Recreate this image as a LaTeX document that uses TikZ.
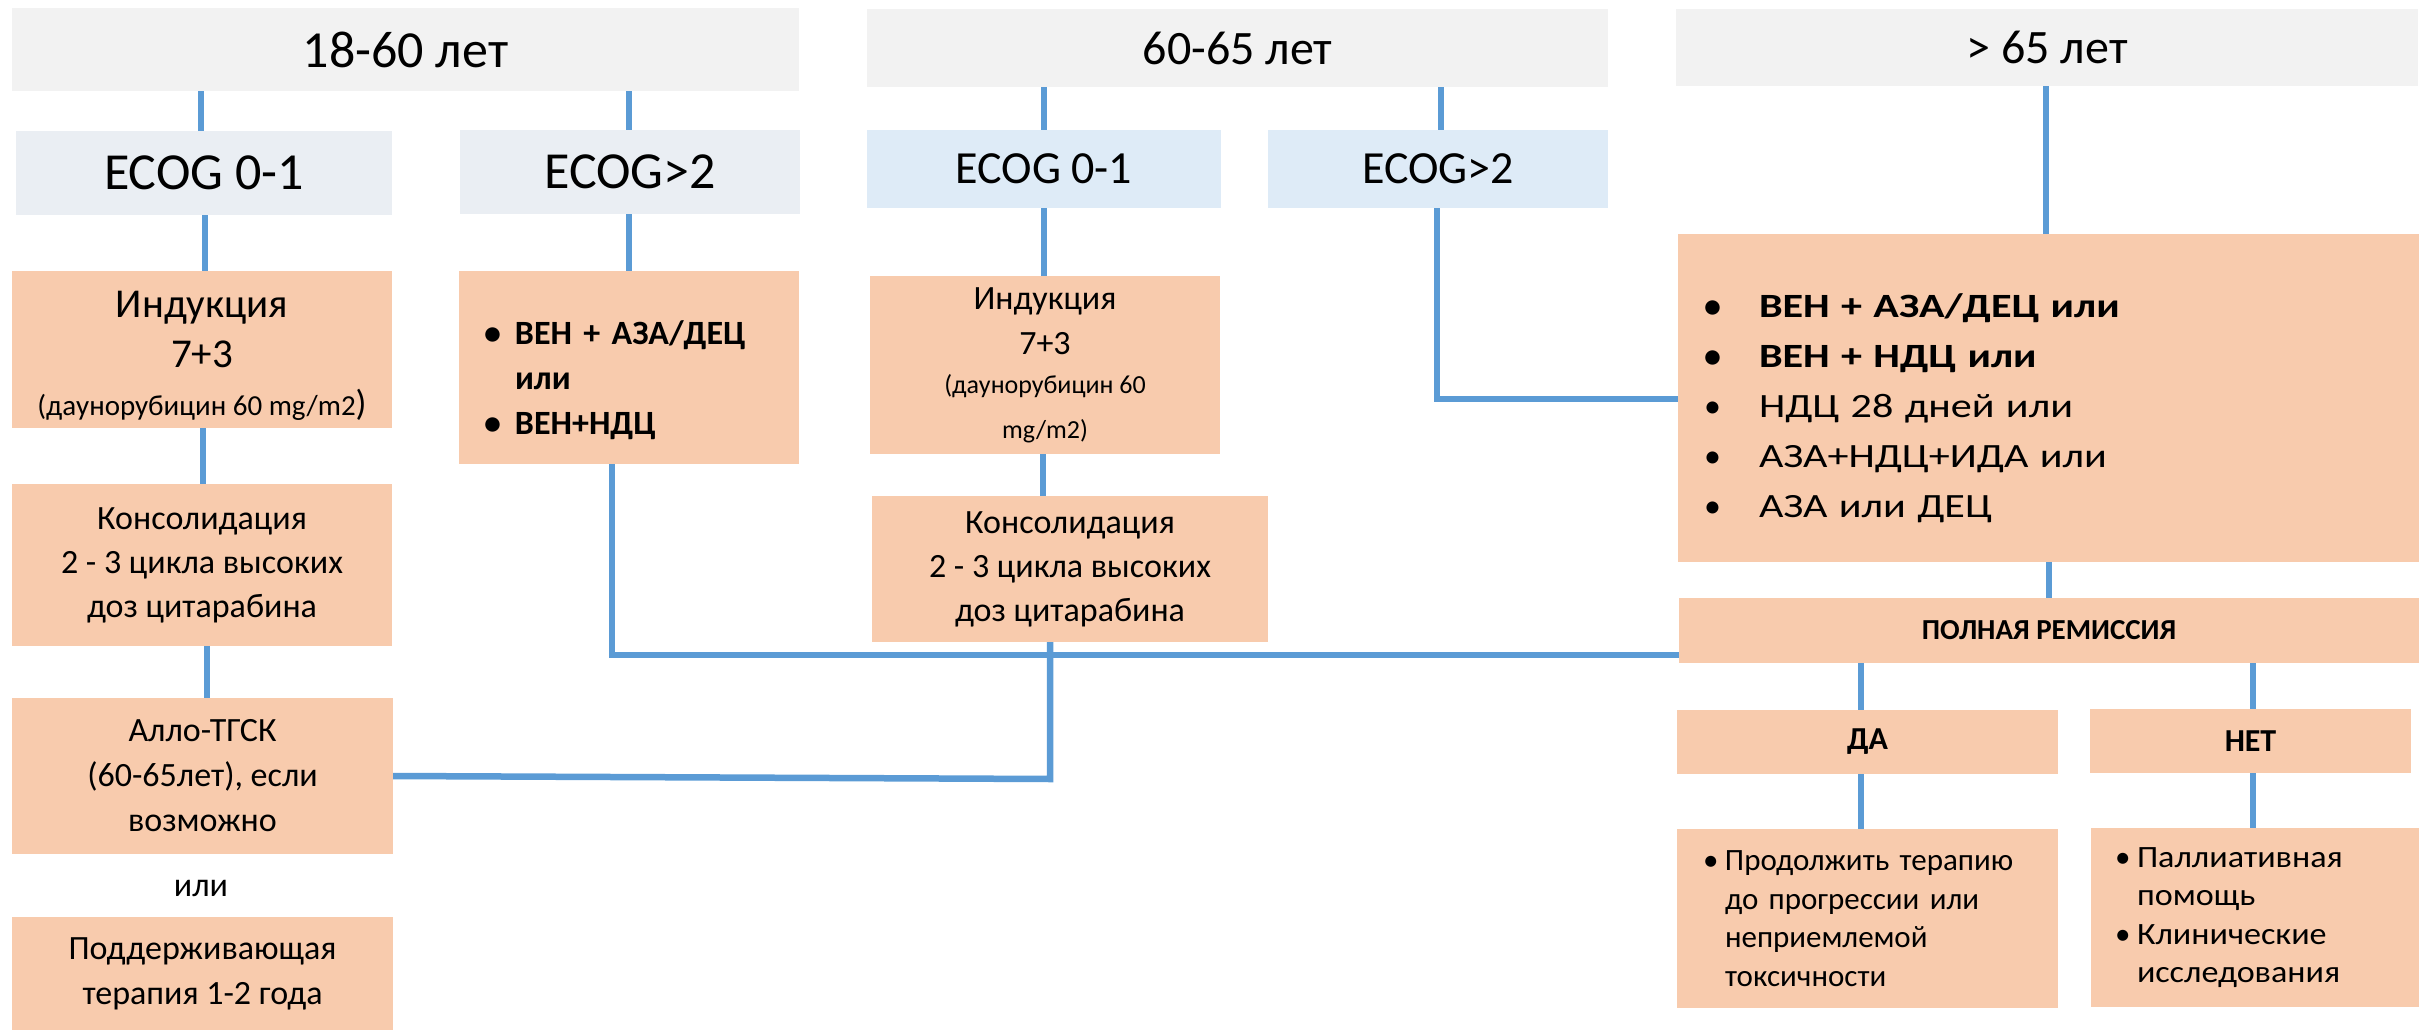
\documentclass[tikz,border=0pt]{standalone}
\usepackage{fontspec}
\setmainfont{Carlito}
\newfontfamily\wideA[FakeStretch=1.24]{Carlito}
\newfontfamily\wideB[FakeStretch=1.1]{Carlito}
\definecolor{hdr}{HTML}{F2F2F2}
\definecolor{ecA}{HTML}{EAEEF3}
\definecolor{ecB}{HTML}{DEEBF7}
\definecolor{org}{HTML}{F8CBAD}
\definecolor{lnk}{HTML}{5B9BD5}
\newcommand{\fs}[2]{\fontsize{#1}{#2}\selectfont}
\newcommand{\mybul}[1]{\makebox[#1][l]{\rmfamily •}}
\tikzset{
 box/.style={rectangle, inner sep=0pt, align=center},
 obox/.style={box, fill=org},
 conn/.style={draw=lnk, line width=6.5pt},
}
\begin{document}
\begin{tikzpicture}[x=1pt,y=-1pt]
\useasboundingbox (0,0) rectangle (2428,1030);
% headers
\node[box, fill=hdr, minimum width=787, minimum height=83, font=\fs{52}{60}] (h1) at (405.5,49.5) {18-60 лет};
\node[box, fill=hdr, minimum width=741, minimum height=78, font=\fs{48}{52}] (h2) at (1237.5,48) {60-65 лет};
\node[box, fill=hdr, minimum width=742, minimum height=77, font=\fs{48}{52}] (h3) at (2047,47.5) {> 65 лет};
% ECOG
\node[box, fill=ecA, minimum width=376, minimum height=84, font=\fs{52}{58}] (e1a) at (204,173) {ECOG 0-1};
\node[box, fill=ecA, minimum width=340, minimum height=84, font=\fs{52}{58}] (e1b) at (630,172) {ECOG>2};
\node[box, fill=ecB, minimum width=354, minimum height=78, font=\fs{46}{52}] (e2a) at (1044,169) {ECOG 0-1};
\node[box, fill=ecB, minimum width=340, minimum height=78, font=\fs{46}{52}] (e2b) at (1438,169) {ECOG>2};
% 18-60 column
\node[obox, minimum width=380, minimum height=157, font=\fs{41}{50}] (ind1) at (202,349.5)
 {\rule{0pt}{38pt}Индукция\\7+3\\[-2pt]{\fs{29}{34}(даунорубицин 60 mg/m2}{\fs{36}{34})}};
\node[obox, minimum width=340, minimum height=193, text width=290pt, inner xsep=25pt, align=left, font=\bfseries\fs{34}{45}] (ven1) at (629,367.5)
 {\mybul{31pt}\rule{0pt}{50pt}ВЕН + АЗА/ДЕЦ\\\hspace*{31pt}или\\\mybul{31pt}ВЕН+НДЦ};
\node[obox, minimum width=380, minimum height=162, font=\fs{34}{44}] (cons1) at (202,565)
 {Консолидация\\2 - 3 цикла высоких\\доз цитарабина};
\node[obox, minimum width=381, minimum height=156, font=\fs{34}{45}] (allo) at (202.5,776)
 {Алло-ТГСК\\(60-65лет), если\\возможно};
\node[font=\fs{34}{40}] (orr) at (201,888) {или};
\node[obox, minimum width=381, minimum height=113, font=\fs{34}{45}] (maint) at (202.5,973.5)
 {Поддерживающая\\терапия 1-2 года};
% 60-65 column
\node[obox, minimum width=350, minimum height=178, font=\fs{34}{45}] (ind2) at (1045,365)
 {Индукция\\7+3\\[-6pt]{\fs{26}{31}(даунорубицин 60}\\{\fs{26}{31}mg/m2)}};
\node[obox, minimum width=396, minimum height=146, font=\fs{34}{44}] (cons2) at (1070,569)
 {Консолидация\\2 - 3 цикла высоких\\доз цитарабина};
% >65 column
\node[obox, minimum width=741, minimum height=328, text width=689pt, inner xsep=26pt, align=left, font=\wideA\fs{34}{50}] (b65) at (2048.5,398)
 {{\bfseries\mybul{55pt}\rule{0pt}{44pt}ВЕН + АЗА/ДЕЦ или}\\
  {\bfseries\mybul{55pt}ВЕН + НДЦ или}\\
  \mybul{55pt}НДЦ 28 дней или\\
  \mybul{55pt}АЗА+НДЦ+ИДА или\\
  \mybul{55pt}АЗА или ДЕЦ};
\node[obox, minimum width=740, minimum height=65, font=\bfseries\fs{29}{34}] (pr) at (2049,630.5) {ПОЛНАЯ РЕМИССИЯ};
\node[obox, minimum width=381, minimum height=64, font=\bfseries\fs{32}{38}] (da) at (1867.5,742) {ДА};
\node[obox, minimum width=321, minimum height=64, font=\bfseries\fs{32}{38}] (net) at (2250.5,741) {НЕТ};
\node[obox, minimum width=381, minimum height=179, text width=329pt, inner xsep=26pt, align=left, font=\fs{31}{38.5}] (dab) at (1867.5,918.5)
 {\mybul{22pt}Продолжить терапию\\\hspace*{22pt}до прогрессии или\\\hspace*{22pt}неприемлемой\\\hspace*{22pt}токсичности};
\node[obox, minimum width=328, minimum height=179, text width=280pt, inner xsep=24pt, align=left, font=\wideB\fs{31}{38.5}] (netb) at (2255,917.5)
 {\mybul{22pt}Паллиативная\\\hspace*{22pt}помощь\\\mybul{22pt}Клинические\\\hspace*{22pt}исследования};
% connectors
\draw[conn] (h1.south -| 201,0) -- (e1a.north -| 201,0);
\draw[conn] (h1.south -| 629,0) -- (e1b.north -| 629,0);
\draw[conn] (e1a.south -| 205,0) -- (ind1.north -| 205,0);
\draw[conn] (e1b.south -| 629,0) -- (ven1.north -| 629,0);
\draw[conn] (ind1.south -| 203,0) -- (cons1.north -| 203,0);
\draw[conn] (cons1.south -| 207,0) -- (allo.north -| 207,0);
\draw[conn] (h2.south -| 1044,0) -- (e2a.north -| 1044,0);
\draw[conn] (h2.south -| 1441,0) -- (e2b.north -| 1441,0);
\draw[conn] (e2a.south -| 1044,0) -- (ind2.north -| 1044,0);
\draw[conn] (ind2.south -| 1043,0) -- (cons2.north -| 1043,0);
\draw[conn] (h3.south -| 2046,0) -- (b65.north -| 2046,0);
\draw[conn] (e2b.south -| 1437,0) -- (1437,399) -- (b65.west |- 0,399);
\draw[conn] (ven1.south -| 612,0) -- (612,655) -- (pr.west |- 0,655);
\draw[conn] (cons2.south -| 1050,0) -- (1050,779) -- (allo.east |- 0,776);
\draw[conn] (b65.south -| 2049,0) -- (pr.north -| 2049,0);
\draw[conn] (pr.south -| 1861,0) -- (da.north -| 1861,0);
\draw[conn] (pr.south -| 2253,0) -- (net.north -| 2253,0);
\draw[conn] (da.south -| 1861,0) -- (dab.north -| 1861,0);
\draw[conn] (net.south -| 2253,0) -- (netb.north -| 2253,0);
\end{tikzpicture}
\end{document}
